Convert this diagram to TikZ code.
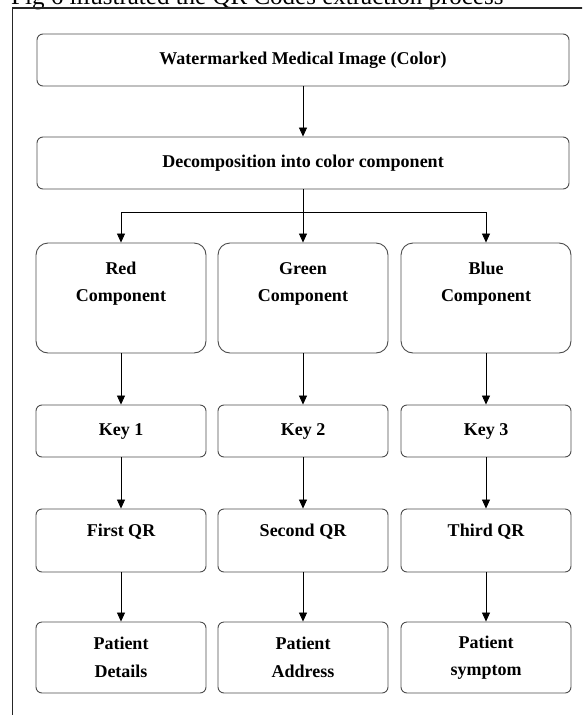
\documentclass[tikz,border=0pt]{standalone}
\usepackage{fontspec}
\setmainfont{Liberation Serif}
\usetikzlibrary{arrows.meta}
\begin{document}
\begin{tikzpicture}[x=1pt,y=-1pt,
  box/.style={draw=black!70,line width=0.9pt,rounded corners=6pt,inner sep=0pt,
    align=center,font=\fontsize{18}{27.5}\selectfont\bfseries},
  wide/.style={box,minimum width=532pt,minimum height=52pt},
  comp/.style={box,rounded corners=12pt,minimum width=170pt,text height=58.5pt,text depth=51.5pt},
  keybox/.style={box,minimum width=170pt,minimum height=52pt},
  qrbox/.style={box,minimum width=170pt,text height=27pt,text depth=36pt},
  infobox/.style={box,minimum width=170pt,minimum height=71pt},
  arr/.style={line width=0.8pt,-{Triangle[length=9pt,width=8pt]}}]
\useasboundingbox (0,0) rectangle (582,715);
\clip (0,0) rectangle (582,715);

\node[anchor=base west,inner sep=0pt,font=\fontsize{25}{30}\selectfont] (caption) at (11,4.5) {Fig 6 illustrated the QR Codes extraction process};
\draw[line width=1.2pt,black!85] (12.5,716) -- (12.5,8) -- (583,8);

\node[wide] (img) at (303,60) {Watermarked Medical Image (Color)};
\node[wide] (dec) at (303,163) {Decomposition into color component};

\node[comp] (red) at (121,298) {Red\\Component};
\node[comp] (green) at (303,298) {Green\\Component};
\node[comp] (blue) at (486,298) {Blue\\Component};

\node[keybox] (key1) at (121,431) {Key 1};
\node[keybox] (key2) at (303,431) {Key 2};
\node[keybox] (key3) at (486,431) {Key 3};

\node[qrbox] (qr1) at (121,540.5) {First QR};
\node[qrbox] (qr2) at (303,540.5) {Second QR};
\node[qrbox] (qr3) at (486,540.5) {Third QR};

\node[infobox] (pat1) at (121,657.5) {Patient\\Details};
\node[infobox] (pat2) at (303,657.5) {Patient\\Address};
\node[infobox] (pat3) at (486,657.5) {Patient\\symptom};

\coordinate (fork) at (303,212);

\draw[arr] (img) -- (dec);
\draw[arr] (dec) -- (green);
\draw[arr] (fork) -| (red);
\draw[arr] (fork) -| (blue);

\draw[arr] (red) -- (key1);
\draw[arr] (green) -- (key2);
\draw[arr] (blue) -- (key3);

\draw[arr] (key1) -- (qr1);
\draw[arr] (key2) -- (qr2);
\draw[arr] (key3) -- (qr3);

\draw[arr] (qr1) -- (pat1);
\draw[arr] (qr2) -- (pat2);
\draw[arr] (qr3) -- (pat3);
\end{tikzpicture}
\end{document}
